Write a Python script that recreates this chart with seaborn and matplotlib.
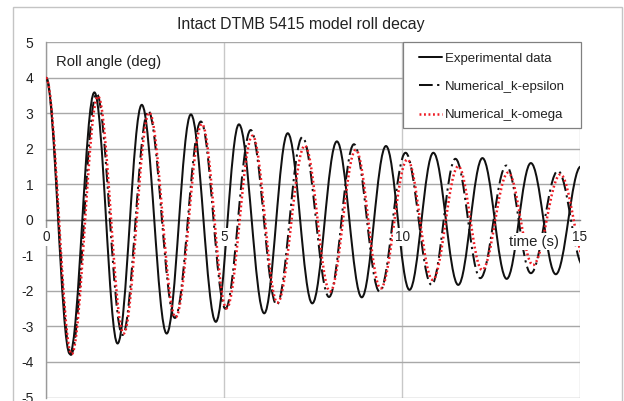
import matplotlib
matplotlib.use("Agg")
import matplotlib.pyplot as plt
from matplotlib.path import Path
from matplotlib.patches import PathPatch, Rectangle
from matplotlib.lines import Line2D
import seaborn as sns

# ---------------- data ----------------
title = "Intact DTMB 5415 model roll decay"
y_label = "Roll angle (deg)"
x_label = "time (s)"
series_names = ["Experimental data", "Numerical_k-epsilon", "Numerical_k-omega"]
x_ticks = [0, 5, 10, 15]
y_ticks = [-5, -4, -3, -2, -1, 0, 1, 2, 3, 4, 5]

# successive extrema (time in s, roll angle in deg) of each decay record
exp_t = [0.0, 0.67, 1.36, 2.01, 2.69, 3.39, 4.07, 4.77, 5.42, 6.13, 6.79, 7.48,
         8.17, 8.87, 9.55, 10.21, 10.88, 11.58, 12.26, 12.94, 13.62, 14.32, 15.02]
exp_v = [4.0, -3.77, 3.59, -3.48, 3.24, -3.20, 2.97, -2.87, 2.69, -2.63, 2.44, -2.35,
         2.21, -2.18, 2.08, -1.97, 1.89, -1.83, 1.74, -1.66, 1.60, -1.53, 1.50]

keps_t = [0.0, 0.70, 1.42, 2.15, 2.87, 3.62, 4.35, 5.04, 5.75, 6.48, 7.20, 7.95,
          8.65, 9.37, 10.10, 10.83, 11.50, 12.20, 12.93, 13.62, 14.38, 15.10]
keps_v = [4.0, -3.80, 3.56, -3.24, 3.07, -2.76, 2.77, -2.50, 2.53, -2.39, 2.33, -2.17,
          2.13, -2.02, 1.89, -1.83, 1.72, -1.64, 1.53, -1.50, 1.38, -1.30]

komg_t = [0.0, 0.72, 1.46, 2.18, 2.90, 3.64, 4.38, 5.07, 5.80, 6.50, 7.27, 7.98,
          8.70, 9.40, 10.15, 10.86, 11.58, 12.25, 12.98, 13.68, 14.45, 15.18]
komg_v = [4.0, -3.78, 3.48, -3.20, 3.02, -2.74, 2.70, -2.49, 2.37, -2.33, 2.09, -2.02,
          1.97, -1.93, 1.70, -1.69, 1.51, -1.41, 1.33, -1.27, 1.28, -1.20]

# ---------------- style ----------------
sns.set_theme(style="white")
plt.rcParams['font.family'] = ['Liberation Sans', 'DejaVu Sans']
plt.rcParams['axes.unicode_minus'] = False

W, H = 624, 401
fig = plt.figure(figsize=(W / 100, H / 100), dpi=100)
fig.patch.set_facecolor("white")

ax_left, ax_right, ax_top, ax_bottom = 46, 580, 42.3, 397.5
ax = fig.add_axes([ax_left / W, 1 - ax_bottom / H,
                   (ax_right - ax_left) / W, (ax_bottom - ax_top) / H])
ax.set_facecolor("white")

# outer chart border
fig.add_artist(Rectangle((12.7 / W, -0.05), (622.3 - 12.7) / W, 1.05 - 7.3 / H,
                         transform=fig.transFigure, fill=False,
                         edgecolor="#c4c4c4", lw=1.0))


def smooth_path(t, v):
    """Smooth curve through successive extrema (horizontal tangents at each)."""
    k = 0.3634
    verts = [(t[0], v[0])]
    codes = [Path.MOVETO]
    for i in range(len(t) - 1):
        dt = t[i + 1] - t[i]
        verts += [(t[i] + k * dt, v[i]), (t[i + 1] - k * dt, v[i + 1]),
                  (t[i + 1], v[i + 1])]
        codes += [Path.CURVE4] * 3
    return Path(verts, codes)


styles = [
    dict(color="#111111", lw=1.45, ls="-"),
    dict(color="#111111", lw=1.45, ls=(0, (6.8, 2.2, 1.1, 2.2))),
    dict(color="#ee1c24", lw=1.8, ls=(0, (0.75, 1.05))),
]
series = [(exp_t, exp_v), (keps_t, keps_v), (komg_t, komg_v)]

for (t, v), st, z in zip(series, styles, [3, 3.1, 3.2]):
    p = PathPatch(smooth_path(t, v), fill=False, edgecolor=st["color"],
                  lw=st["lw"], zorder=z, capstyle="butt", joinstyle="round")
    p.set_linestyle(st["ls"])
    ax.add_patch(p)

ax.set_xlim(x_ticks[0], x_ticks[-1])
ax.set_ylim(y_ticks[0], y_ticks[-1])

# grid and axes
ax.set_yticks(y_ticks)
ax.set_yticklabels([str(v) for v in y_ticks], fontsize=10, color="#222222")
ax.set_xticks(x_ticks)
ax.set_xticklabels([])
ax.tick_params(axis="x", length=0)
ax.tick_params(axis="y", length=4, width=1, color="#9a9a9a", pad=5, direction="out")
ax.yaxis.grid(True, color="#a8a8a8", lw=1.0)
ax.xaxis.grid(True, color="#c8c8c8", lw=1.0)
for s in ["top", "right"]:
    ax.spines[s].set_visible(False)
ax.spines["left"].set_color("#9a9a9a")
ax.spines["left"].set_linewidth(1.0)
ax.spines["bottom"].set_position(("data", 0))
ax.spines["bottom"].set_color("#808080")
ax.spines["bottom"].set_linewidth(1.0)

# x tick labels next to the axis crossing at zero (white boxes as in Excel)
for xt in x_ticks:
    ax.text(xt, -0.48, str(xt), ha="center", va="center", fontsize=9.8,
            color="#222222", zorder=6,
            bbox=dict(boxstyle="square,pad=0.12", fc="white", ec="none"))
ax.text(13.71, -0.61, x_label, ha="center", va="center", fontsize=10.7,
        color="#222222", zorder=6,
        bbox=dict(boxstyle="square,pad=0.1", fc="white", ec="none"))
ax.text(0.28, 4.44, y_label, ha="left", va="center", fontsize=10.7,
        color="#222222", zorder=6)

fig.text(301 / W, 1 - 25 / H, title, ha="center", va="center",
         fontsize=11.4, color="#222222")

# legend
ax.add_patch(Rectangle((402.7 / W, 1 - 127.7 / H), 178 / W, 85.4 / H,
                       transform=fig.transFigure, facecolor="white",
                       edgecolor="#808080", lw=0.9, zorder=4, clip_on=False))
handles = [Line2D([], [], color=st["color"], lw=st["lw"], linestyle=st["ls"])
           for st in styles]
leg = ax.legend(handles, series_names, loc="upper left",
                bbox_to_anchor=(419 / W, 1 - 52.5 / H),
                bbox_transform=fig.transFigure, frameon=False, borderpad=0,
                handlelength=1.75, handletextpad=0.2, labelspacing=1.22,
                fontsize=9.5, borderaxespad=0)
leg.set_zorder(5)
for txt in leg.get_texts():
    txt.set_color("#222222")

fig.savefig("out.png", dpi=100)
